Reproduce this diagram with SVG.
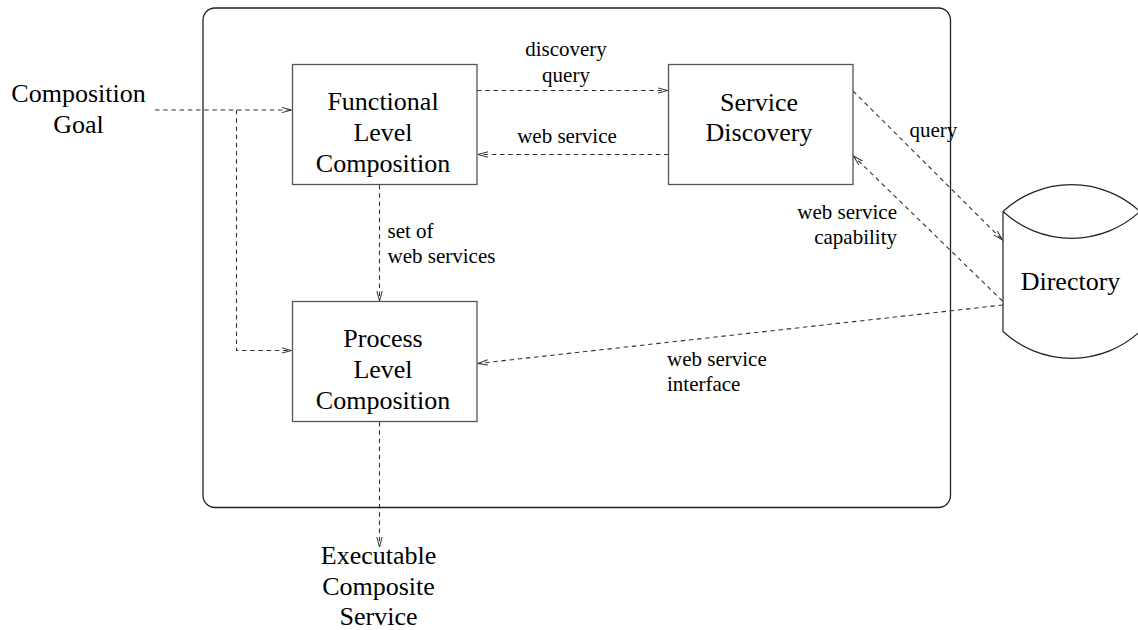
<svg xmlns="http://www.w3.org/2000/svg" width="1138" height="630" viewBox="0 0 1138 630">
  <style>
    .frame { fill: none; stroke: #222; stroke-width: 1.3; }
    .box { fill: #fff; stroke: #555; stroke-width: 1.3; }
    .store { fill: none; stroke: #222; stroke-width: 1.2; }
    .link { fill: none; stroke: #333; stroke-width: 1.1; stroke-dasharray: 4.5 3.7; }
    .big { font-family: "Liberation Serif", "Times New Roman", serif; font-size: 26px; fill: #000; text-anchor: middle; }
    .lbl { font-family: "Liberation Serif", "Times New Roman", serif; font-size: 21px; fill: #000; }
  </style>
  <defs>
    <marker id="arrow" markerUnits="userSpaceOnUse" markerWidth="12" markerHeight="8" viewBox="0 0 12 8" refX="10" refY="4" orient="auto">
      <path d="M0,1.3 L10,4 L0,6.7" fill="none" stroke="#333" stroke-width="1" stroke-dasharray="none"/>
    </marker>
  </defs>

  <rect width="1138" height="630" fill="#fff"/>

  <!-- enclosing composition engine -->
  <rect id="engine" class="frame" x="203" y="8" width="747.5" height="499.5" rx="12" ry="12"/>

  <g id="connectors">
    <!-- composition goal feeds both composition levels -->
    <line class="link" x1="155" y1="110" x2="291.5" y2="110" marker-end="url(#arrow)"/>
    <polyline class="link" points="236.5,110 236.5,350.5 291.5,350.5" marker-end="url(#arrow)"/>
    <!-- discovery query / web service exchange -->
    <line class="link" x1="477" y1="90.5" x2="667.5" y2="90.5" marker-end="url(#arrow)"/>
    <line class="link" x1="668.5" y1="154.5" x2="478" y2="154.5" marker-end="url(#arrow)"/>
    <!-- set of web services -->
    <line class="link" x1="379.5" y1="185" x2="379.5" y2="301" marker-end="url(#arrow)"/>
    <!-- output -->
    <line class="link" x1="379.5" y1="422" x2="379.5" y2="547" marker-end="url(#arrow)"/>
    <!-- directory interactions -->
    <line class="link" x1="853" y1="91" x2="1002.5" y2="240" marker-end="url(#arrow)"/>
    <line class="link" x1="1002.5" y1="301" x2="853.5" y2="156" marker-end="url(#arrow)"/>
    <line class="link" x1="1003" y1="305" x2="478" y2="363.5" marker-end="url(#arrow)"/>

    <text class="lbl" x="566" y="56" text-anchor="middle">discovery</text>
    <text class="lbl" x="566" y="82" text-anchor="middle">query</text>
    <text class="lbl" x="567" y="143" text-anchor="middle">web service</text>
    <text class="lbl" x="387.5" y="238">set of</text>
    <text class="lbl" x="387.5" y="263">web services</text>
    <text class="lbl" x="909.5" y="137">query</text>
    <text class="lbl" x="897" y="218.5" text-anchor="end">web service</text>
    <text class="lbl" x="897" y="244" text-anchor="end">capability</text>
    <text class="lbl" x="667" y="366">web service</text>
    <text class="lbl" x="667" y="391">interface</text>
  </g>

  <g id="goal">
    <text class="big" x="78.5" y="102">Composition</text>
    <text class="big" x="78.5" y="133">Goal</text>
  </g>

  <g id="functional">
    <rect class="box" x="292.5" y="64.5" width="184.5" height="120"/>
    <text class="big" x="383" y="110">Functional</text>
    <text class="big" x="383" y="141">Level</text>
    <text class="big" x="383" y="172">Composition</text>
  </g>

  <g id="discovery">
    <rect class="box" x="668.5" y="64.5" width="184.5" height="120"/>
    <text class="big" x="759" y="111">Service</text>
    <text class="big" x="759" y="141">Discovery</text>
  </g>

  <g id="process">
    <rect class="box" x="292.5" y="301.5" width="184.5" height="120"/>
    <text class="big" x="383" y="347">Process</text>
    <text class="big" x="383" y="377.5">Level</text>
    <text class="big" x="383" y="408.5">Composition</text>
  </g>

  <g id="directory">
    <path class="store" d="M1003,211.5 A101,101 0 0 1 1140,211.5 M1003,211.5 A101,101 0 0 0 1140,211.5 M1003,211.5 L1003,331.5 A101,101 0 0 0 1140,331.5"/>
    <text class="big" x="1070.5" y="290">Directory</text>
  </g>

  <g id="result">
    <text class="big" x="378.5" y="564">Executable</text>
    <text class="big" x="378.5" y="594.5">Composite</text>
    <text class="big" x="378.5" y="624.5">Service</text>
  </g>
</svg>
